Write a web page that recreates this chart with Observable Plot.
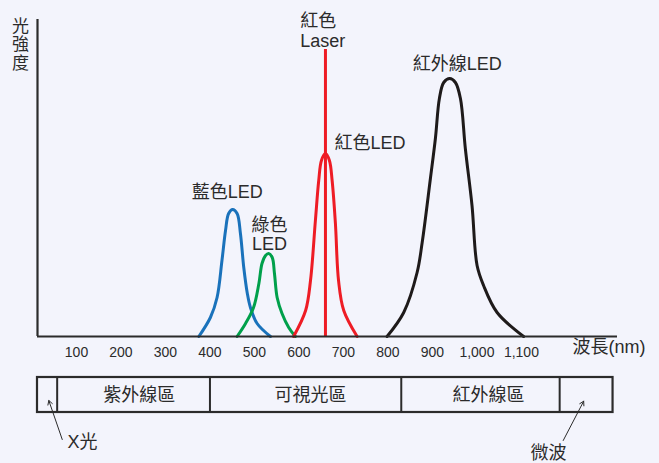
<!DOCTYPE html>
<html>
<head>
<meta charset="utf-8">
<script src="https://cdn.jsdelivr.net/npm/d3@7"></script>
<script src="https://cdn.jsdelivr.net/npm/@observablehq/plot@0.6"></script>
<style>
  html, body { margin: 0; padding: 0; background: #f3f4fc; }
  #chart { width: 659px; }
  #chart svg { display: block; }
</style>
</head>
<body>
<div id="chart"></div>
<script>
// ---- data (wavelength in nm, relative intensity) ----
const blueNm  = [375, 401, 416, 427, 435, 442, 451, 461, 468.5, 476, 484, 491, 506, 536];
const blueI   = [0, 19, 39, 76, 106, 123, 127, 123, 103, 69, 43, 29, 13, 0];
const greenNm = [461, 480, 498, 510, 517, 525, 532, 540, 545, 551, 562, 577, 592];
const greenI  = [0, 13, 29, 53, 73, 81, 83, 79, 63, 39, 23, 9, 0];
const redNm   = [588, 615, 626, 637, 644.5, 650.6, 659.6, 668.5, 674.6, 682, 689, 700.7, 730.8];
const redI    = [0, 26, 56, 116, 156, 176, 183, 176, 156, 113, 56, 26, 0];
const irNm    = [798, 835.5, 865.6, 877, 895.5, 906.7, 915.7, 925.4, 938.9, 951.7, 963, 974, 989, 1000.4, 1015, 1045.4, 1105];
const irI     = [0, 24, 64, 94, 158, 198, 238, 254, 258, 254, 238, 188, 131, 71, 51, 24, 0];
const laserNm = 659.6;
const laserI  = 287;

const tickValues = [100, 200, 300, 400, 500, 600, 700, 800, 900, 1000, 1100];
const tickLabels = ["100", "200", "300", "400", "500", "600", "700", "800", "900", "1,000", "1,100"];

const labelText   = ["藍色LED", "綠色\nLED", "紅色\nLaser", "紅色LED", "紅外線LED"];
const labelNm     = [439, 534, 603, 680, 956];
const labelI      = [145, 102, 306, 194, 273];
const labelAnchor = ["middle", "middle", "start", "start", "middle"];

const regionEdges  = [12.4, 56.6, 400, 830, 1186, 1306];   // band boundaries (nm)
const regionNames  = ["紫外線區", "可視光區", "紅外線區"];
const regionNameNm = [241, 626, 1026];

// ---- styles / layout ----
const bg = "#f3f4fc";
const ink = "#2b2b2b";
const font = "'Liberation Sans', Arial, 'Noto Sans CJK TC', sans-serif";
const xDomain = [12.4, 1316];
const W = 659, mL = 37, mR = 42;

const series = [
  {nm: blueNm, v: blueI, color: "#1a72bb"},
  {nm: greenNm, v: greenI, color: "#00a04b"},
  {nm: redNm, v: redI, color: "#ee1c25"},
  {nm: irNm, v: irI, color: "#1e1a1a"}
];

const lineMarks = series.map(s =>
  Plot.line(s.nm.map((x, i) => ({x, y: s.v[i]})), {
    x: "x", y: "y", curve: "catmull-rom", stroke: s.color, strokeWidth: 3
  })
);

const labels = labelText.map((t, i) => ({t, x: labelNm[i], y: labelI[i], a: labelAnchor[i]}));

const main = Plot.plot({
  width: W, height: 370,
  marginLeft: mL, marginRight: mR, marginTop: 19, marginBottom: 34,
  style: {background: bg, fontFamily: font, fontSize: "14px", color: ink},
  x: {domain: xDomain},
  y: {domain: [0, 317], axis: null},
  marks: [
    Plot.axisX({ticks: tickValues, tickSize: 0, tickPadding: 11, label: null,
      tickFormat: d => tickLabels[tickValues.indexOf(d)], fontSize: 14, fill: ink}),
    ...lineMarks,
    Plot.ruleX([laserNm], {y1: 0, y2: laserI, stroke: "#ee1c25", strokeWidth: 3}),
    Plot.ruleY([0], {stroke: ink, strokeWidth: 2.2}),
    Plot.ruleX([xDomain[0]], {stroke: ink, strokeWidth: 2.2}),
    Plot.text(labels.filter(d => d.a === "middle"), {x: "x", y: "y", text: "t", fontSize: 18, fill: ink, textAnchor: "middle", lineHeight: 1.05}),
    Plot.text(labels.filter(d => d.a === "start"), {x: "x", y: "y", text: "t", fontSize: 18, fill: ink, textAnchor: "start", lineHeight: 1.15}),
    Plot.text(["光\n強\n度"], {frameAnchor: "top-left", dx: -17, dy: -1, lineAnchor: "top", textAnchor: "middle", fontSize: 17, lineHeight: 1.1, fill: ink}),
    Plot.text(["波長(nm)"], {frameAnchor: "bottom-right", dx: 28, dy: 16, textAnchor: "end", fontSize: 18, fill: ink})
  ]
});

// ---- wavelength band below ----
const bandTop = 7, bandBottom = 42;
const regions = regionNames.map((n, i) => ({n, x: regionNameNm[i]}));

const band = Plot.plot({
  width: W, height: 93,
  marginLeft: mL, marginRight: mR, marginTop: 0, marginBottom: 0,
  style: {background: bg, fontFamily: font, color: ink},
  x: {domain: xDomain, axis: null},
  y: {domain: [0, 93], range: [0, 93], axis: null},
  marks: [
    Plot.rect([0], {x1: regionEdges[0], x2: regionEdges[regionEdges.length - 1], y1: bandTop, y2: bandBottom, fill: "none", stroke: ink, strokeWidth: 2.2}),
    Plot.ruleX(regionEdges.slice(1, -1), {y1: bandTop, y2: bandBottom, stroke: ink, strokeWidth: 2}),
    Plot.text(regions, {x: "x", y: (bandTop + bandBottom) / 2, text: "n", fontSize: 18, fill: ink}),
    Plot.arrow([0], {x1: 68, y1: 69, x2: 37.8, y2: 30, stroke: ink, strokeWidth: 1, headLength: 7}),
    Plot.arrow([0], {x1: 1194, y1: 70, x2: 1240, y2: 30.7, stroke: ink, strokeWidth: 1, headLength: 7}),
    Plot.text(["X光"], {x: 80, y: 71.5, textAnchor: "start", fontSize: 18, fill: ink}),
    Plot.text(["微波"], {x: 1161, y: 83, textAnchor: "middle", fontSize: 18, fill: ink})
  ]
});

const root = document.getElementById("chart");
root.append(main, band);
</script>
</body>
</html>
